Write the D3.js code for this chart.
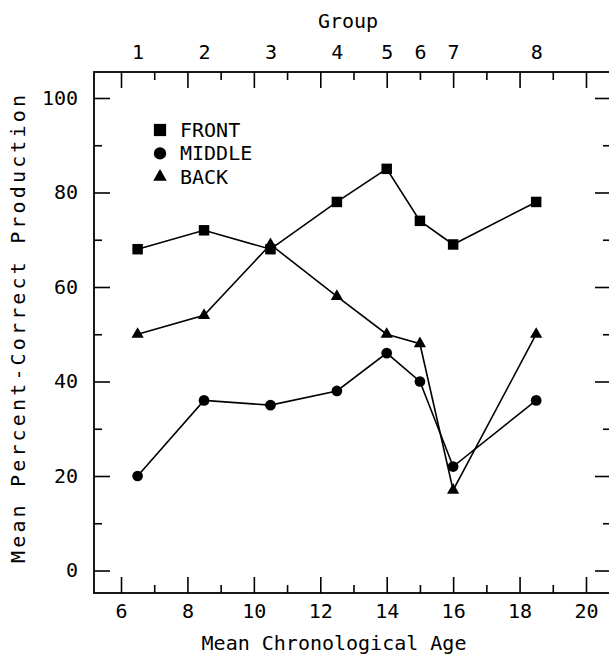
<!DOCTYPE html>
<html>
<head>
<meta charset="utf-8">
<script src="https://cdn.jsdelivr.net/npm/d3@7"></script>
<style>
body { margin: 0; background: #fff; }
</style>
</head>
<body>
<div id="chart"></div>
<script>
// values
const ages = [6.5, 8.5, 10.5, 12.5, 14, 15, 16, 18.5];
const groupLabels = ['1', '2', '3', '4', '5', '6', '7', '8'];
const front = [68, 72, 68, 78, 85, 74, 69, 78];
const middle = [20, 36, 35, 38, 46, 40, 22, 36];
const back = [50, 54, 69, 58, 50, 48, 17, 50];
const ageMajor = [6, 8, 10, 12, 14, 16, 18, 20];
const ageMinor = [7, 9, 11, 13, 15, 17, 19];
const pctMajor = [0, 20, 40, 60, 80, 100];
const pctMinor = [10, 30, 50, 70, 90];
const legendNames = ['FRONT', 'MIDDLE', 'BACK'];

const width = 609;
const height = 660;
const margin = { left: 94, top: 72, right: -2, bottom: 67 };
const innerW = width - margin.left - margin.right;
const innerH = height - margin.top - margin.bottom;
const font = '"DejaVu Sans Mono", monospace';

const svg = d3.select('#chart').append('svg')
	.attr('width', width)
	.attr('height', height)
	.style('display', 'block');

const g = svg.append('g')
	.attr('transform', `translate(${margin.left},${margin.top})`);

const x = d3.scaleLinear().domain([5.187, 20.753]).range([0, innerW]);
const y = d3.scaleLinear().domain([-4.76, 105.5]).range([innerH, 0]);

const major = 16;
const minor = 8;

// bottom axis, ticks pointing in
g.append('g').attr('transform', `translate(0,${innerH})`)
	.call(d3.axisBottom(x).tickValues(ageMajor).tickSize(-major).tickSizeOuter(0).tickPadding(11));
g.append('g').attr('transform', `translate(0,${innerH})`)
	.call(d3.axisBottom(x).tickValues(ageMinor).tickSize(-minor).tickSizeOuter(0).tickFormat(''));

// top axis mirrors the bottom one
g.append('g')
	.call(d3.axisTop(x).tickValues(ageMajor).tickSize(-major).tickSizeOuter(0).tickFormat(''));
g.append('g')
	.call(d3.axisTop(x).tickValues(ageMinor).tickSize(-minor).tickSizeOuter(0).tickFormat(''));

// group numbers above the frame
g.append('g')
	.attr('class', 'group-axis')
	.call(d3.axisTop(x).tickValues(ages).tickSize(0).tickPadding(13)
		.tickFormat((d, i) => groupLabels[i]));

g.append('g')
	.call(d3.axisLeft(y).tickValues(pctMajor).tickSize(-major).tickSizeOuter(0).tickPadding(16));
g.append('g')
	.call(d3.axisLeft(y).tickValues(pctMinor).tickSize(-minor).tickSizeOuter(0).tickFormat(''));
g.append('g').attr('transform', `translate(${innerW},0)`)
	.call(d3.axisRight(y).tickValues(pctMajor).tickSize(-major).tickSizeOuter(0).tickFormat(''));
g.append('g').attr('transform', `translate(${innerW},0)`)
	.call(d3.axisRight(y).tickValues(pctMinor).tickSize(-minor).tickSizeOuter(0).tickFormat(''));

g.selectAll('path.domain').remove();
g.selectAll('.tick line').attr('stroke', '#000').attr('stroke-width', 1.6);
g.selectAll('.tick text')
	.attr('fill', '#000')
	.style('font-family', font)
	.style('font-size', '20px');

g.append('rect')
	.attr('width', innerW)
	.attr('height', innerH)
	.attr('fill', 'none')
	.attr('stroke', '#000')
	.attr('stroke-width', 1.8);

const series = [
	{ name: 'FRONT', values: front, symbol: d3.symbolSquare, size: 110, legendSize: 150 },
	{ name: 'MIDDLE', values: middle, symbol: d3.symbolCircle, size: 90, legendSize: 120 },
	{ name: 'BACK', values: back, symbol: d3.symbolTriangle, size: 65, legendSize: 80 }
];

const line = d3.line()
	.x(d => x(d[0]))
	.y(d => y(d[1]));

series.forEach(s => {
	const pts = ages.map((a, i) => [a, s.values[i]]);
	g.append('path')
		.datum(pts)
		.attr('d', line)
		.attr('fill', 'none')
		.attr('stroke', '#000')
		.attr('stroke-width', 1.6);
	g.selectAll(null)
		.data(pts).enter()
		.append('path')
		.attr('d', d3.symbol().type(s.symbol).size(s.size))
		.attr('transform', d => `translate(${x(d[0])},${y(d[1])})`)
		.attr('fill', '#000');
});

// legend
const legend = svg.append('g').attr('transform', 'translate(160,130)');
series.forEach((s, i) => {
	const row = legend.append('g').attr('transform', `translate(0,${i * 23.4})`);
	row.append('path')
		.attr('d', d3.symbol().type(s.symbol).size(s.legendSize))
		.attr('fill', '#000');
	row.append('text')
		.attr('x', 20)
		.attr('y', 7)
		.text(legendNames[i])
		.attr('fill', '#000')
		.style('font-family', font)
		.style('font-size', '20px');
});

svg.append('text')
	.attr('x', 348)
	.attr('y', 28)
	.attr('text-anchor', 'middle')
	.text('Group')
	.style('font-family', font)
	.style('font-size', '20px');

svg.append('text')
	.attr('x', 334)
	.attr('y', 650)
	.attr('text-anchor', 'middle')
	.text('Mean Chronological Age')
	.style('font-family', font)
	.style('font-size', '20px');

svg.append('text')
	.attr('transform', 'translate(25,329) rotate(-90)')
	.attr('text-anchor', 'middle')
	.attr('textLength', 468)
	.attr('lengthAdjust', 'spacing')
	.text('Mean Percent-Correct Production')
	.style('font-family', font)
	.style('font-size', '20px');
</script>
</body>
</html>
